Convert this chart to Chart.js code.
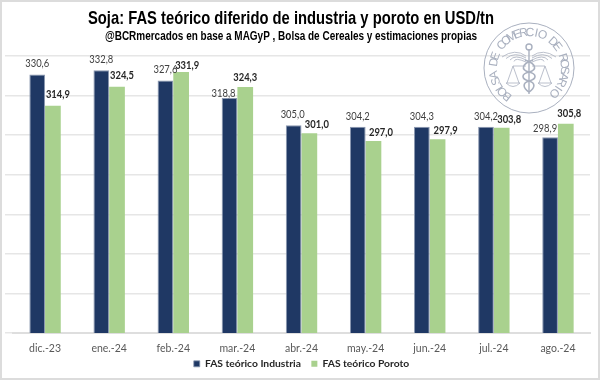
<!DOCTYPE html>
<html>
<head>
<meta charset="utf-8">
<script src="https://cdn.jsdelivr.net/npm/chart.js@4"></script>
<style>
  html, body { margin: 0; padding: 0; background: #fff; }
  #wrap { position: relative; width: 600px; height: 380px; }
</style>
</head>
<body>
<div id="wrap"><canvas id="chart" width="600" height="380"></canvas></div>
<script>
const categories = ['dic.-23', 'ene.-24', 'feb.-24', 'mar.-24', 'abr.-24', 'may.-24', 'jun.-24', 'jul.-24', 'ago.-24'];
const industria = [330.6, 332.8, 327.6, 318.8, 305.0, 304.2, 304.3, 304.2, 298.9];
const poroto = [314.9, 324.5, 331.9, 324.3, 301.0, 297.0, 297.9, 303.8, 305.8];
const titulo = 'Soja: FAS teórico diferido de industria y poroto en USD/tn';
const subtitulo = '@BCRmercados en base a MAGyP , Bolsa de Cereales y estimaciones propias';

// nudges for the value labels, the original has them moved by hand
const shiftIndustria = [[0, -7.5], [0, -7], [0, -7.5], [-6, -0.5], [-1, -7], [0, -6.5], [0, -7], [0, -7], [-5, -5]];
const shiftPoroto = [[5, -8], [5, -7.5], [6, -3.5], [0, -6.5], [7.5, -5], [7.5, -5], [8, -5], [7.5, -5], [3.5, -6.5]];

const fmt = v => v.toFixed(1).replace('.', ',');

const valueLabels = {
    id: 'valueLabels',
    afterDatasetsDraw(chart) {
        const ctx = chart.ctx;
        ctx.save();
        ctx.textAlign = 'center';
        ctx.textBaseline = 'alphabetic';
        chart.getDatasetMeta(0).data.forEach((bar, i) => {
            ctx.font = '12px Lato';
            ctx.fillStyle = '#404040';
            ctx.fillText(fmt(industria[i]), bar.x + shiftIndustria[i][0], bar.y + shiftIndustria[i][1], 24);
        });
        chart.getDatasetMeta(1).data.forEach((bar, i) => {
            ctx.font = 'bold 12px Lato';
            ctx.fillStyle = '#262626';
            ctx.fillText(fmt(poroto[i]), bar.x + shiftPoroto[i][0], bar.y + shiftPoroto[i][1], 24);
        });
        ctx.restore();
    }
};

// no narrow font here, so the titles are squeezed with maxWidth
const titles = {
    id: 'titles',
    afterDraw(chart) {
        const ctx = chart.ctx;
        ctx.save();
        ctx.fillStyle = '#000';
        ctx.textAlign = 'center';
        ctx.textBaseline = 'alphabetic';
        ctx.font = 'bold 18.5px "Liberation Sans"';
        ctx.fillText(titulo, 291, 24, 406);
        ctx.font = 'bold 12px "Liberation Sans"';
        ctx.fillText(subtitulo, 291, 40, 372);
        ctx.strokeStyle = '#dcdcdc';
        ctx.lineWidth = 2;
        ctx.strokeRect(1, 1, 598, 378);
        ctx.restore();
    }
};

// watermark of the Bolsa, sits over the top right of the plot
const seal = {
    id: 'seal',
    afterDatasetsDraw(chart) {
        const ctx = chart.ctx;
        const col = '#a9b0bf';
        ctx.save();
        ctx.translate(529, 68);
        ctx.strokeStyle = col;
        ctx.fillStyle = col;
        ctx.lineWidth = 1;
        ctx.beginPath(); ctx.arc(0, 0, 45, 0, Math.PI * 2); ctx.stroke();

        // ring text
        const text = 'BOLSA DE COMERCIO DE ROSARIO';
        ctx.font = '12px "Liberation Sans"';
        ctx.textAlign = 'center';
        ctx.textBaseline = 'alphabetic';
        const start = -Math.PI * 1.29, step = (Math.PI * 1.54) / (text.length - 1);
        for (let i = 0; i < text.length; i++) {
            ctx.save();
            ctx.rotate(start + i * step + Math.PI / 2);
            ctx.fillText(text[i], 0, -32);
            ctx.restore();
        }

        // wings
        ctx.lineWidth = 0.8;
        [-1, 1].forEach(s => {
            for (let k = 0; k < 4; k++) {
                ctx.beginPath();
                ctx.moveTo(s * 3, -12 + k * 2);
                ctx.quadraticCurveTo(s * 14, -20 + k * 3, s * (27 - k * 4), -11 + k * 1.5);
                ctx.stroke();
            }
            // scale pan
            const px = s * 16;
            ctx.beginPath();
            ctx.moveTo(s * 3, -2); ctx.lineTo(px, -2);
            ctx.moveTo(px, -2); ctx.lineTo(px - 6, 15);
            ctx.moveTo(px, -2); ctx.lineTo(px + 6, 15);
            ctx.stroke();
            ctx.beginPath();
            ctx.moveTo(px - 7, 15); ctx.quadraticCurveTo(px, 22, px + 7, 15);
            ctx.closePath();
            ctx.stroke();
        });

        // staff and snake
        ctx.lineWidth = 1.4;
        ctx.beginPath(); ctx.moveTo(0, -19); ctx.lineTo(0, 26); ctx.stroke();
        ctx.beginPath(); ctx.arc(0, -21, 3, 0, Math.PI * 2); ctx.stroke();
        ctx.lineWidth = 1.6;
        ctx.beginPath();
        ctx.moveTo(-4, -8);
        ctx.bezierCurveTo(8, -4, 8, 2, 0, 4);
        ctx.bezierCurveTo(-8, 6, -8, 11, 0, 13);
        ctx.bezierCurveTo(7, 15, 6, 20, 0, 24);
        ctx.stroke();
        ctx.beginPath();
        ctx.moveTo(4, -8);
        ctx.bezierCurveTo(-8, -4, -8, 2, 0, 4);
        ctx.bezierCurveTo(8, 6, 8, 11, 0, 13);
        ctx.bezierCurveTo(-7, 15, -6, 20, 0, 24);
        ctx.stroke();
        ctx.restore();
    }
};

new Chart(document.getElementById('chart'), {
    type: 'bar',
    data: {
        labels: categories,
        datasets: [
            {
                label: 'FAS teórico Industria',
                data: industria,
                backgroundColor: '#1f3864',
                borderColor: '#8a97b0',
                borderWidth: { left: 1, right: 1, top: 1, bottom: 0 },
                categoryPercentage: 0.49,
                barPercentage: 1,
            },
            {
                label: 'FAS teórico Poroto',
                data: poroto,
                backgroundColor: '#a9d18e',
                borderWidth: 0,
                categoryPercentage: 0.49,
                barPercentage: 1,
            },
        ],
    },
    options: {
        responsive: false,
        animation: false,
        layout: { padding: { left: 13, right: 10, top: 56, bottom: 1 } },
        scales: {
            x: {
                grid: { display: false },
                border: { color: '#dedede', width: 2 },
                ticks: { color: '#595959', font: { family: 'Lato', size: 10.5 }, padding: 1, maxRotation: 0 },
            },
            y: {
                min: 200,
                max: 340,
                afterFit(axis) { axis.width = 0; },
                grid: { color: '#e6e6e6', lineWidth: 1.5 },
                border: { display: false },
                ticks: { display: false, stepSize: 20 },
            },
        },
        plugins: {
            legend: {
                position: 'bottom',
                labels: {
                    boxWidth: 6,
                    boxHeight: 6,
                    padding: 3,
                    color: '#262626',
                    font: { family: 'Lato', size: 10.3, weight: 'bold' },
                    // trailing spaces set the gap between the two items
                    generateLabels(chart) {
                        const items = Chart.defaults.plugins.legend.labels.generateLabels(chart);
                        items[0].text += '\u00a0\u00a0\u00a0';
                        return items;
                    },
                },
            },
            tooltip: { enabled: false },
        },
    },
    plugins: [valueLabels, seal, titles],
});
</script>
</body>
</html>
